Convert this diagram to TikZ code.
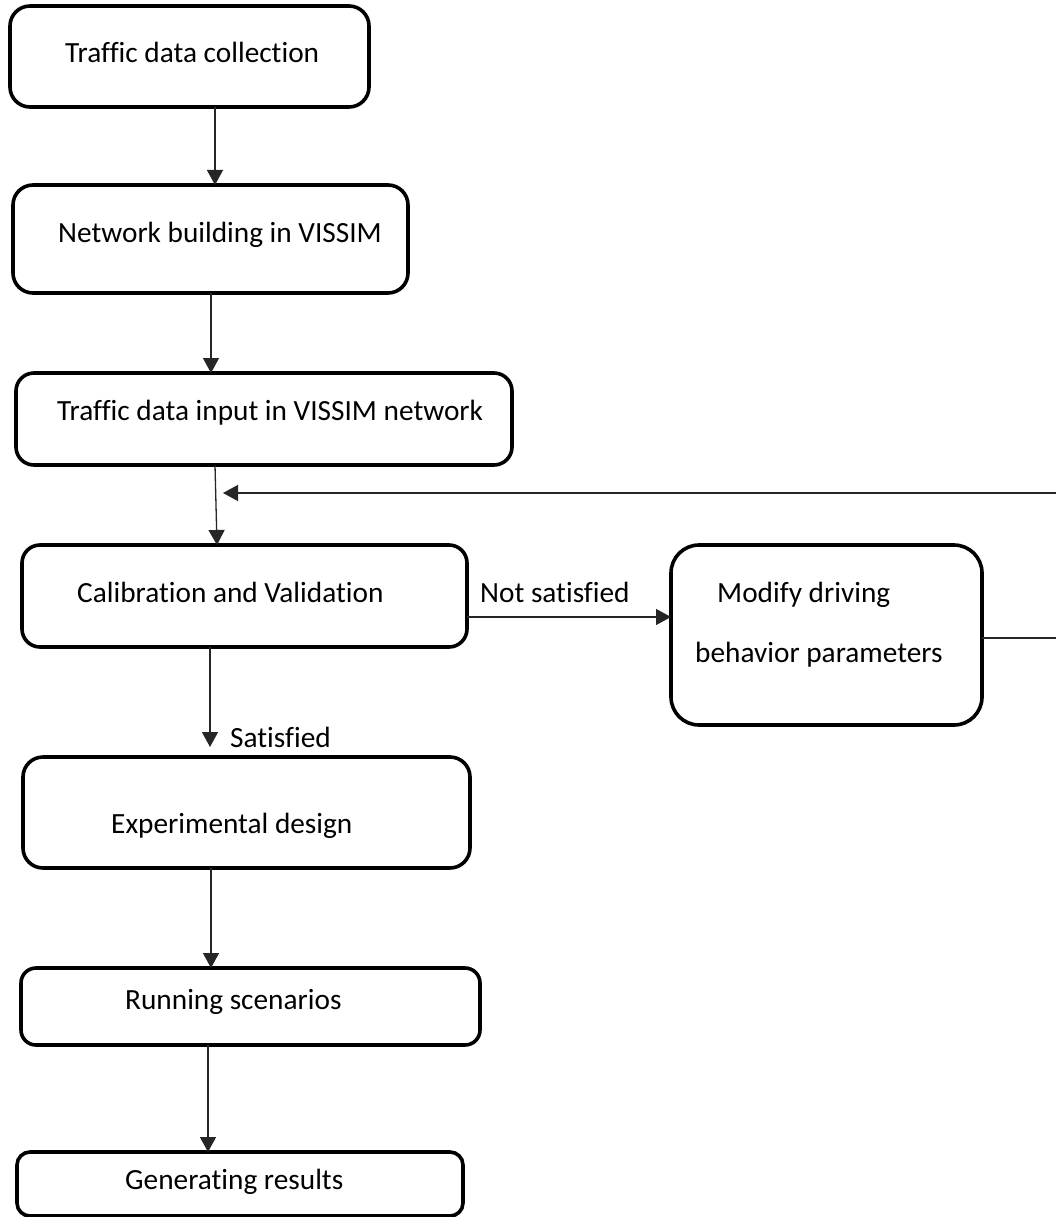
\documentclass[tikz,border=0pt]{standalone}
\usepackage{fontspec}
\setmainfont{Carlito}[Ligatures={NoCommon}]
\usetikzlibrary{arrows.meta}
\begin{document}
\begin{tikzpicture}[x=1pt,y=-1pt,
  box/.style={draw=black, line width=3.6pt, inner sep=0pt, outer sep=0pt, anchor=north west},
  txt/.style={inner sep=0pt, anchor=base west, font=\fontsize{29.3}{35}\selectfont},
  arr/.style={draw=black!85, line width=1.3pt, -{Triangle[width=16pt,length=15pt]}},
  conn/.style={draw=black!85, line width=1.3pt}]
\useasboundingbox (0,0) rectangle (1056,1217);
\clip (0,0) rectangle (1056,1217);
% boxes
\node[box, rounded corners=20pt, minimum width=359pt, minimum height=101pt] (b1) at (10,6) {};
\node[box, rounded corners=20pt, minimum width=395pt, minimum height=108pt] (b2) at (13,185) {};
\node[box, rounded corners=18pt, minimum width=496pt, minimum height=92pt] (b3) at (16,373) {};
\node[box, rounded corners=18pt, minimum width=445pt, minimum height=102pt] (b4) at (22,545) {};
\node[box, rounded corners=28pt, minimum width=311pt, minimum height=180pt] (b5) at (671,545) {};
\node[box, rounded corners=20pt, minimum width=447pt, minimum height=111pt] (b6) at (23,757) {};
\node[box, rounded corners=15pt, minimum width=459pt, minimum height=77pt] (b7) at (21,968) {};
\node[box, rounded corners=13pt, minimum width=446pt, minimum height=64pt] (b8) at (17,1152) {};
% texts
\node[txt] (t1) at (65,63) {Traffic data collection};
\node[txt] (t2) at (58,242) {Network building in VISSIM};
\node[txt] (t3) at (57,420) {Traffic data input in VISSIM network};
\node[txt] (t4) at (77,602) {Calibration and Validation};
\node[txt] (t5a) at (717,602) {Modify driving};
\node[txt] (t5b) at (695,662) {behavior parameters};
\node[txt] (t6) at (111,833) {Experimental design};
\node[txt] (t7) at (125,1009) {Running scenarios};
\node[txt] (t8) at (125,1189) {Generating results};
\node[txt] (lns) at (480,602) {Not satisfied};
\node[txt] (lsat) at (230,747) {Satisfied};
% helper coordinates
\coordinate (x1) at (215,0);
\coordinate (x2) at (211,0);
\coordinate (x3a) at (215,0);
\coordinate (x3b) at (217,0);
\coordinate (x4) at (210,0);
\coordinate (sattip) at (210,747);
\coordinate (x5) at (211,0);
\coordinate (x6) at (208,0);
\coordinate (yns) at (0,617);
\coordinate (fb1) at (1090,638);
\coordinate (fb2) at (1090,493);
\coordinate (fbtip) at (223,493);
% connectors
\draw[arr] (b1.south -| x1) -- (b2.north -| x1);
\draw[arr] (b2.south -| x2) -- (b3.north -| x2);
\draw[arr] (b3.south -| x3a) -- (b4.north -| x3b);
\draw[arr] (b4.south -| x4) -- (sattip);
\draw[arr] (b6.south -| x5) -- (b7.north -| x5);
\draw[arr] (b7.south -| x6) -- (b8.north -| x6);
\draw[arr] (b4.east |- yns) -- (b5.west |- yns);
\draw[arr] (b5.east |- fb1) -- (fb1) -- (fb2) -- (fbtip);
\end{tikzpicture}
\end{document}
